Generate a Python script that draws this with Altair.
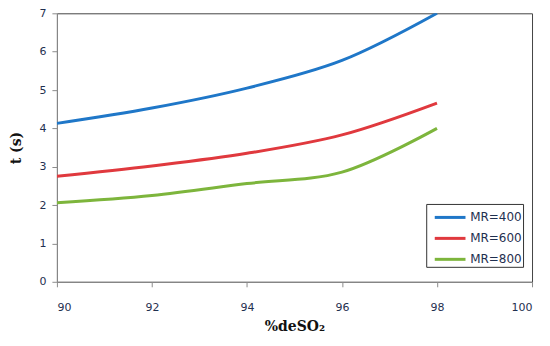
import altair as alt
import pandas as pd

x_vals = [90, 92, 94, 96, 98]
mr400 = [4.13, 4.53, 5.05, 5.77, 7.0]
mr600 = [2.75, 3.02, 3.35, 3.83, 4.66]
mr800 = [2.06, 2.25, 2.56, 2.86, 4.0]
series = ["MR=400", "MR=600", "MR=800"]
colors = ["#1F77C8", "#E0393E", "#7DB53C"]

rows = []
for name, vals in zip(series, [mr400, mr600, mr800]):
    for x, y in zip(x_vals, vals):
        rows.append({"x": x, "t": y, "series": name})
df = pd.DataFrame(rows)

label_color = "#1F3050"

chart = alt.Chart(df).mark_line(
    interpolate="catmull-rom", strokeWidth=3, clip=True
).encode(
    x=alt.X("x:Q",
            scale=alt.Scale(domain=[90, 100], nice=False, zero=False),
            axis=alt.Axis(values=[90, 92, 94, 96, 98, 100], title="%deSO₂",
                          grid=False, domainColor="#8C8C8C", tickColor="#8C8C8C",
                          tickSize=5, labelFont="DejaVu Sans", labelFontSize=11,
                          labelColor=label_color, labelPadding=15,
                          titleFont="DejaVu Serif", titleFontSize=14, titleFontWeight="bold",
                          titleColor="#111111", titlePadding=7)),
    y=alt.Y("t:Q",
            scale=alt.Scale(domain=[0, 7], nice=False),
            axis=alt.Axis(values=[0, 1, 2, 3, 4, 5, 6, 7], title="t (s)",
                          grid=False, domainColor="#8C8C8C", tickColor="#8C8C8C",
                          tickSize=5, labelFont="DejaVu Sans", labelFontSize=11,
                          labelColor=label_color, labelPadding=6,
                          titleFont="DejaVu Serif", titleFontSize=14, titleFontWeight="bold",
                          titleColor="#111111", titlePadding=15)),
    color=alt.Color("series:N",
                    scale=alt.Scale(domain=series, range=colors),
                    legend=alt.Legend(title=None, orient="none", legendX=370, legendY=191,
                                      symbolType="M-0.45,0H2.35", symbolSize=484,
                                      symbolStrokeWidth=3, labelFont="DejaVu Sans",
                                      labelFontSize=12, labelColor=label_color,
                                      labelOffset=18, rowPadding=2,
                                      labelExpr="datum.label + '   '",
                                      strokeColor="#333333", padding=1,
                                      fillColor="white")),
).properties(
    width=476, height=269,
    autosize=alt.AutoSizeParams(type="none"),
    padding={"left": 49, "top": 5, "right": 10, "bottom": 56},
).configure_view(
    stroke="#444444", strokeWidth=1
)

chart.save("out.html", embed_options={"renderer": "svg", "actions": False})
